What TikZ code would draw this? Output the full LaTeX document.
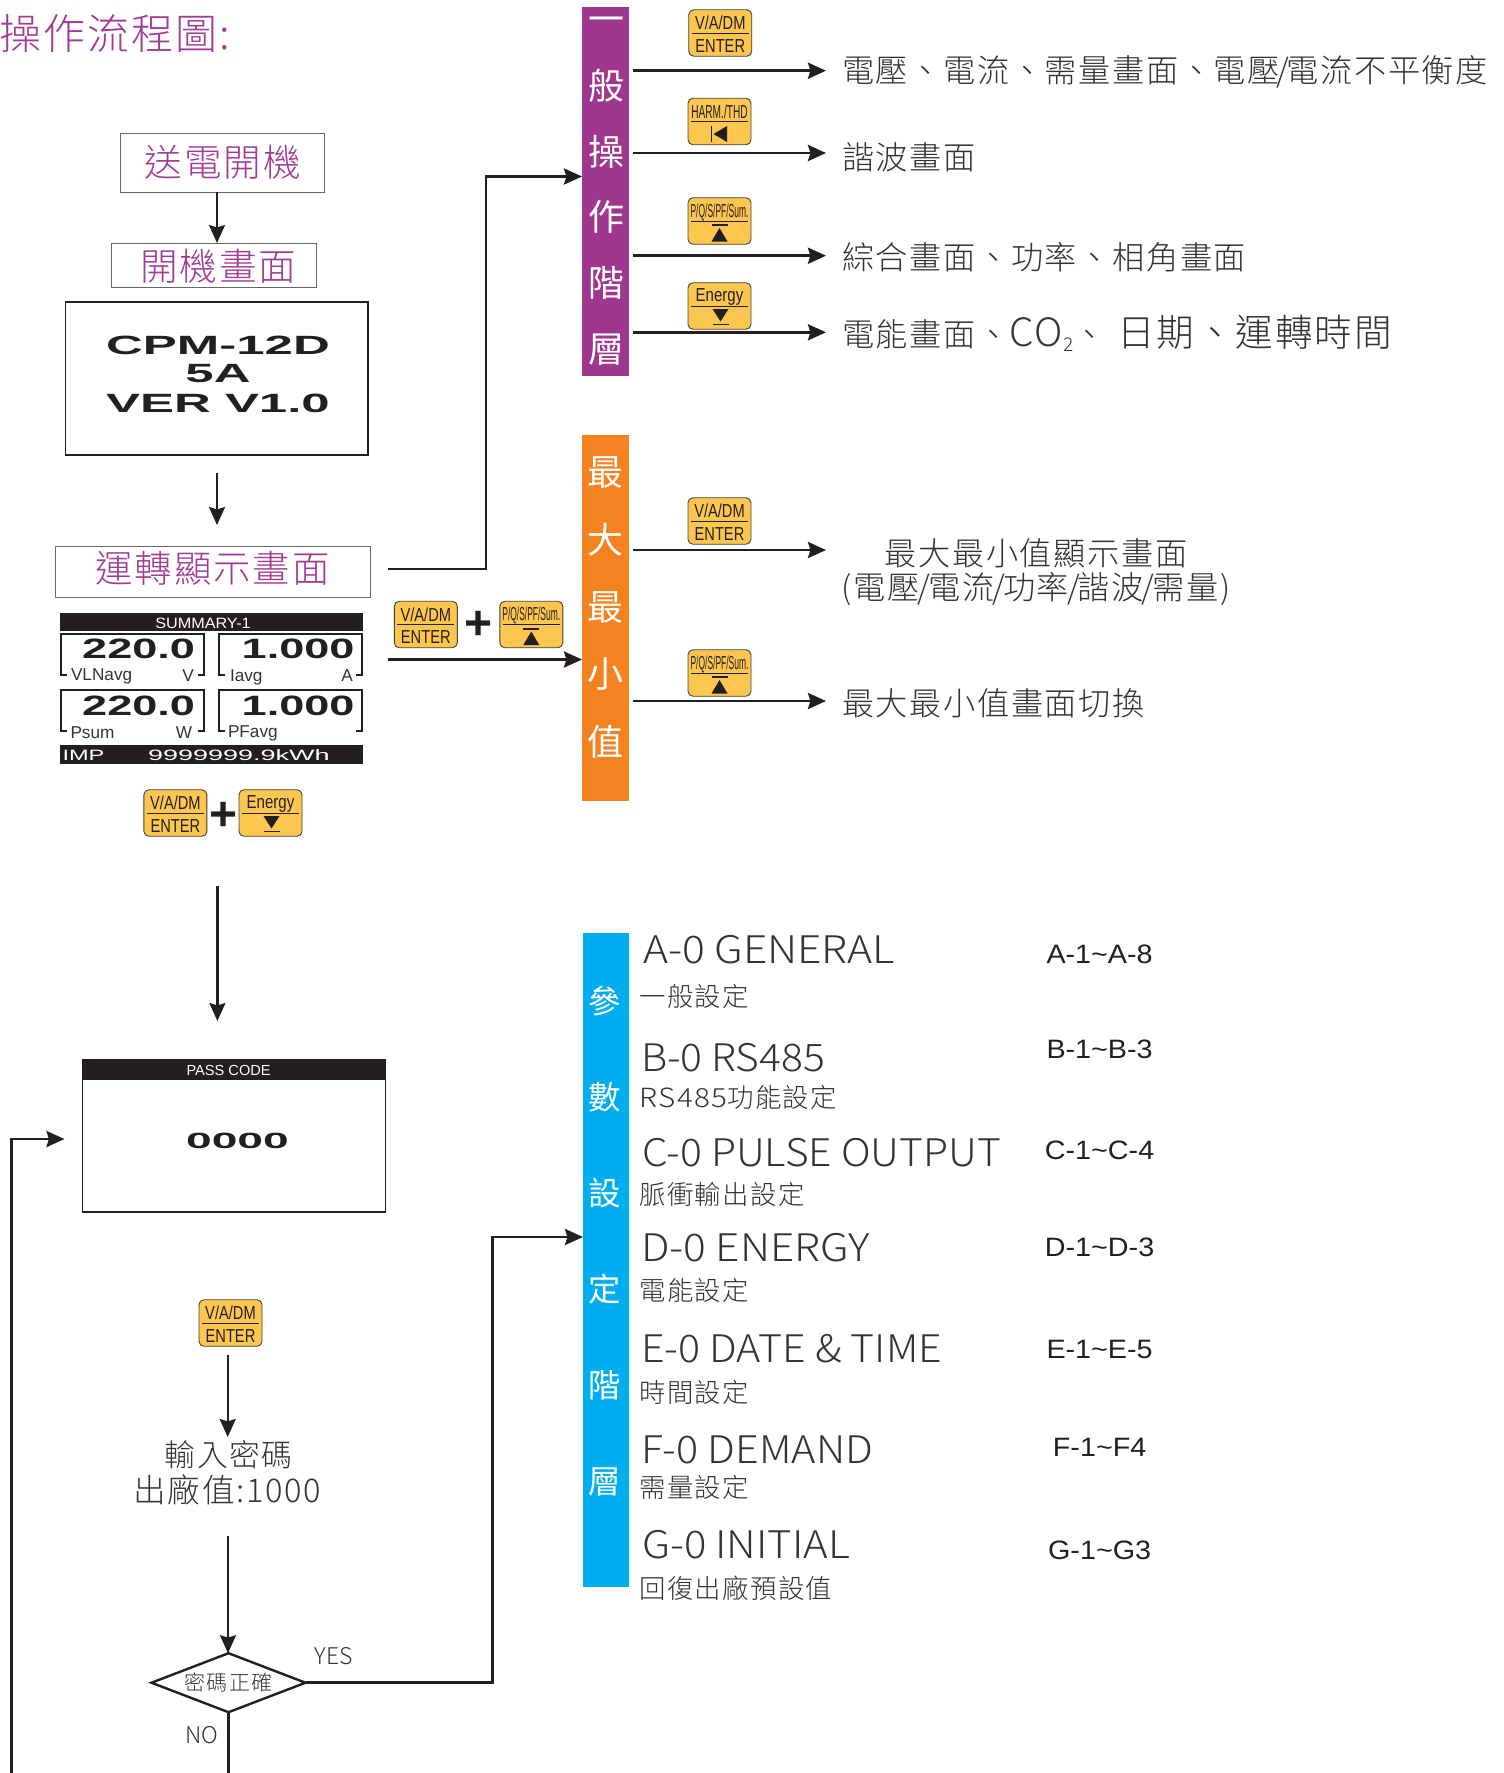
\documentclass[tikz,border=0pt]{standalone}
\usepackage{fontspec}
\usepackage{graphicx}
\usetikzlibrary{arrows.meta,shapes.geometric,calc}
\setmainfont{Liberation Sans}
\newfontfamily\cjk[LetterSpace=5]{Noto Sans CJK TC Light}
\newfontfamily\cjkr[LetterSpace=5]{Noto Sans CJK TC}
\newfontfamily\latl{Noto Sans CJK TC Light}
\newcommand\fs[1]{\fontsize{#1}{#1}\selectfont}
\newcommand\st{\rule[-.12em]{0pt}{1em}}
\newcommand\xs[2]{\scalebox{#1}[1]{#2}}
\newcommand\kslash{\kern-1.5pt/\kern-1.5pt}
\newcommand\mslash{\kern-1pt/\kern-1pt}
\definecolor{ink}{HTML}{231F20}
\definecolor{txt}{HTML}{333333}
\definecolor{pur}{HTML}{A23B97}
\definecolor{purbar}{HTML}{A0378F}
\definecolor{orabar}{HTML}{F58220}
\definecolor{blubar}{HTML}{00AEEF}
\definecolor{keyfill}{HTML}{FDC64F}
\tikzset{
  x=0.5pt,y=-0.5pt,
  every node/.style={inner sep=0pt,outer sep=0pt},
  purebox/.style={draw=black!60,line width=.5pt,fill=white},
  purtxt/.style={text=pur,font=\cjk\fs{18.8}},
  bodytxt/.style={text=txt,font=\cjk\fs{16.1},anchor=west},
  subtxt/.style={text=txt,font=\cjk\fs{13.2},anchor=west},
  headtxt/.style={text=txt,font=\latl\fs{19},anchor=west},
  codetxt/.style={text=ink,font=\fs{13.3}},
  barchar/.style={text=white,font=\cjkr\fs{18}},
  arrm/.style={draw=ink,line width=1.1pt,-{Stealth[length=9pt,width=8pt,inset=1.2pt]}},
  arrt/.style={draw=ink,line width=1.4pt,-{Stealth[length=9pt,width=8pt,inset=1.2pt]}},
  plainl/.style={draw=ink,line width=1.4pt},
  keybox/.style={draw=black!75,line width=.45pt,fill=keyfill,rounded corners=2.5pt,minimum width=31.5pt,minimum height=23.25pt},
  keytxt/.style={text=ink,font=\fs{9.4}},
  brk/.style={draw=ink,line width=1pt},
  lcdw/.style={text=white,font=\fs{7.5}},
  lcdv/.style={text=ink,font=\bfseries\fs{14}},
  lcdl/.style={text=black!80,font=\fs{8.6}},
  plus/.style={text=ink,font=\bfseries\fs{24}},
}
\newcommand\keybtn[6]{%
  \node[keybox] (#1) at (#2,#3) {};
  \draw[ink,line width=.5pt] ([xshift=1.5pt]#1.west) -- ([xshift=-1.5pt]#1.east);
  \node[keytxt] (#1t) at ($(#1.center)+(0,-10.5)$) {\xs{#5}{#4\st}};
  \begin{scope}[shift={(#1.center)}]#6{#1}\end{scope}
}
\newcommand\symenter[1]{\node[keytxt] (#1e) at (0,12) {\xs{.78}{ENTER\st}};}
\newcommand\symup[1]{\fill[ink] (-8,3.4) rectangle (8,5.2); \fill[ink] (0,7)--(8,20.5)--(-8,20.5)--cycle;}
\newcommand\symdown[1]{\fill[ink] (-7,3)--(9,3)--(1,15.5)--cycle; \fill[ink] (-7,17.6) rectangle (9,19.4);}
\newcommand\symleft[1]{\fill[ink] (-9,4.5) rectangle (-7.4,20.5); \fill[ink] (7.5,4.5)--(7.5,20.5)--(-6,12.5)--cycle;}
\newcommand\bracket[4]{\draw[brk] (#1+6,#4) -- (#1,#4) -- (#1,#2) -- (#3,#2) -- (#3,#4) -- (#3-6,#4);}
\begin{document}
\begin{tikzpicture}
\useasboundingbox (0,0) rectangle (1504,1773);
% title
\node[anchor=west,text=pur,font=\cjk\fs{21}] (title) at (-1,34) {操作流程圖:\st};
% left flow boxes
\node[purebox,minimum width=102pt,minimum height=29.5pt] (A) at (222.5,162.5) {};
\node[purtxt] (At) at (223,162.5) {送電開機\st};
\node[purebox,minimum width=102.25pt,minimum height=22pt] (B) at (213.75,265) {};
\node[purtxt] (Bt) at (218.3,266) {開機畫面\st};
\node[draw=ink,line width=.9pt,minimum width=151.25pt,minimum height=76.5pt] (C) at (216.75,378.5) {};
\node[text=ink,font=\bfseries\fs{13.2}] (c1) at (218,345) {\xs{1.93}{CPM-12D}};
\node[text=ink,font=\bfseries\fs{13.2}] (c2) at (218,374) {\xs{1.93}{5A}};
\node[text=ink,font=\bfseries\fs{13.2}] (c3) at (218,403) {\xs{1.93}{VER V1.0}};
\node[purebox,minimum width=157.75pt,minimum height=25.2pt] (D) at (212.75,571.8) {};
\node[purtxt,font=\cjk\fs{18.7}] (Dt) at (212.6,568) {運轉顯示畫面\st};
\coordinate (ax) at (217,0);
\draw[arrm] (ax |- A.south) -- (ax |- B.north);
\coordinate (cs) at (217,473);
\coordinate (ce) at (217,525);
\draw[arrm] (cs) -- (ce);
% bars
\node[fill=purbar,minimum width=23.5pt,minimum height=184.5pt] (pbar) at (605.5,191.5) {};
\node[fill=orabar,minimum width=23.5pt,minimum height=183pt] (obar) at (605.5,618) {};
\node[fill=blubar,minimum width=23pt,minimum height=326.75pt] (bbar) at (606,1259.75) {};
\foreach \c/\y [count=\i] in {一/19,般/86,操/152,作/217,階/283,層/349}
  \node[barchar] (pc\i) at (606,\y) {\c\st};
\foreach \c/\y [count=\i] in {最/472,大/540,最/607,小/674,值/742}
  \node[barchar] (oc\i) at (605,\y) {\c\st};
\foreach \c/\y [count=\i] in {參/1001,數/1097,設/1193,定/1289,階/1385,層/1481}
  \node[barchar,font=\cjkr\fs{16.2}] (bc\i) at (604.5,\y) {\c\st};
% D to purple bar
\coordinate (ds) at (388,569);
\draw[arrt] (ds) -- (486,569) -- (486,176.5) -- (pbar.west |- 0,176.5);
% keys
\keybtn{k1}{720.25}{33}{V/A/DM}{.78}{\symenter}
\keybtn{k2}{719.5}{121.5}{HARM./THD}{.54}{\symleft}
\keybtn{k3}{719.5}{221}{P/Q/S/PF/Sum.}{.45}{\symup}
\keybtn{k4}{719.5}{306}{Energy}{.8}{\symdown}
\keybtn{k5}{719.5}{521}{V/A/DM}{.78}{\symenter}
\keybtn{k6}{719.5}{673}{P/Q/S/PF/Sum.}{.45}{\symup}
\keybtn{k7}{425.8}{624.5}{V/A/DM}{.78}{\symenter}
\keybtn{k8}{531.3}{624.5}{P/Q/S/PF/Sum.}{.45}{\symup}
\keybtn{k9}{175.4}{813}{V/A/DM}{.78}{\symenter}
\keybtn{k10}{270.5}{813}{Energy}{.8}{\symdown}
\keybtn{k11}{230.5}{1323}{V/A/DM}{.78}{\symenter}
\node[plus] (p1) at (478.6,625.5) {+};
\node[plus] (p2) at (223.5,816) {+};
% right text
\node[bodytxt] (t1) at (842,71.5) {電壓、電流、需量畫面、電壓\kslash 電流不平衡度\st};
\node[bodytxt] (t2) at (842,157) {諧波畫面\st};
\node[bodytxt] (t3) at (842,257) {綜合畫面、功率、相角畫面\st};
\node[bodytxt] (t4) at (842,333.5) {電能畫面、{\fs{19.5}CO}{\fs{9.5}\raisebox{-2.5pt}{2}}、\kern6pt{\fs{18.8}日期、運轉時間}\st};
\node[text=txt,font=\cjk\fs{16.1}] (t5) at (1036,553) {最大最小值顯示畫面\st};
\node[text=txt,font=\cjk\fs{16.1}] (t6) at (1036,588) {(電壓\mslash 電流\mslash 功率\mslash 諧波\mslash 需量)\st};
\node[bodytxt] (t7) at (842,703.5) {最大最小值畫面切換\st};
% right arrows
\foreach \n/\y in {1/70.7,2/153,3/255.7,4/332.3,5/550,6/701}{
  \coordinate (rs\n) at (633,\y);
  \coordinate (re\n) at (826,\y);
  \draw[arrt] (rs\n) -- (re\n);
}
% combo to orange
\coordinate (os) at (388,659.5);
\draw[arrt] (os) -- (obar.west |- os);
% LCD summary
\node[fill=ink,minimum width=151.5pt,minimum height=9.2pt] (sumb) at (211.5,621.8) {};
\node[lcdw] (sumt) at (203,623) {\xs{1.08}{SUMMARY-1}\st};
\bracket{60.7}{634}{203.6}{675.3}
\bracket{219}{634}{361.6}{675.3}
\bracket{60.7}{690}{203.6}{731}
\bracket{219}{690}{361.6}{731}
\node[lcdv,anchor=east] (v1) at (195,649) {\xs{1.61}{220.0}};
\node[lcdv,anchor=east] (v2) at (354.5,649) {\xs{1.61}{1.000}};
\node[lcdv,anchor=east] (v3) at (195,706) {\xs{1.61}{220.0}};
\node[lcdv,anchor=east] (v4) at (354.5,706) {\xs{1.61}{1.000}};
\node[lcdl,anchor=west] (l1) at (71,676) {VLNavg};
\node[lcdl] (l2) at (188,676) {V};
\node[lcdl,anchor=west] (l3) at (230,677) {Iavg};
\node[lcdl] (l4) at (347,676) {A};
\node[lcdl,anchor=west] (l5) at (70.5,733) {Psum};
\node[lcdl] (l6) at (184,733) {W};
\node[lcdl,anchor=west] (l7) at (228,733) {PFavg};
\node[fill=ink,minimum width=151.5pt,minimum height=9.5pt] (impb) at (211.5,754.5) {};
\node[lcdw,anchor=west] (imp) at (62.5,755) {\xs{1.57}{IMP}};
\node[lcdw,anchor=west] (kwh) at (148,755) {\xs{1.8}{9999999.9kWh}};
% down to pass code
\coordinate (ps) at (217.4,886);
\coordinate (pe) at (217.4,1021);
\draw[arrm] (ps) -- (pe);
% pass code box
\node[draw=ink,line width=.7pt,minimum width=151.6pt,minimum height=76pt] (P) at (234.1,1136) {};
\node[fill=ink,minimum width=151.6pt,minimum height=10pt,anchor=north] (Pb) at (P.north) {};
\node[lcdw,font=\fs{7.3}] (Pt) at (228.6,1070) {PASS CODE\st};
\node[text=ink,font=\bfseries\fs{11}] (Pv) at (237.5,1141) {\xs{2.1}{0000}};
% password
\node[text=txt,font=\cjk\fs{15.4}] (in1) at (228.6,1455) {輸入密碼\st};
\node[text=txt,font=\cjk\fs{16.3}] (in2) at (227.3,1490) {出廠值:1000\st};
\coordinate (i1s) at (227.7,1355);
\draw[arrm] (i1s) -- (i1s |- 0,1437);
\coordinate (i2s) at (228,1535.7);
\node[draw=ink,line width=1.2pt,shape=diamond,aspect=2.66,minimum width=77pt,minimum height=29.5pt,text=txt,font=\cjk\fs{10.5}] (dia) at (228.5,1682.7) {密碼正確\st};
\draw[arrm] (i2s) -- (i2s |- dia.north);
\node[text=txt,font=\latl\fs{11.5}] (yes) at (334,1655.7) {YES\st};
\node[text=txt,font=\latl\fs{11.5}] (no) at (201.7,1735) {NO\st};
\draw[arrt] (dia.east) -- (492.5,1682.7) -- (492.5,1237) -- (bbar.west |- 0,1237);
\coordinate (ne) at (228.5,1773);
\draw[plainl] (dia.south) -- (ne);
% return loop
\coordinate (rb) at (11.5,1773);
\coordinate (rt) at (64.5,1139);
\draw[arrt] (rb) |- (rt);
% settings
\foreach \n/\x/\y/\w/\s in {a/643/949/126/A-0 GENERAL,b/641/1057/92/B-0 RS485,c/642/1152/179.5/C-0 PULSE OUTPUT,d/641/1247/114.5/D-0 ENERGY,e/641/1348/150.5/E-0 DATE \& TIME,f/641/1449/116/F-0 DEMAND,g/642/1544/104/G-0 INITIAL}
  \node[headtxt] (h\n) at (\x,\y) {\resizebox{\w pt}{\height}{\s\st}};
\foreach \n/\y/\s in {a/996/一般設定,b/1097.7/\xs{1.12}{RS485}功能設定,c/1194/脈衝輸出設定,d/1290.5/電能設定,e/1392.5/時間設定,f/1487.5/需量設定,g/1588.5/回復出廠預設值}
  \node[subtxt] (s\n) at (639.5,\y) {\s\st};
\foreach \n/\y/\s in {a/953.5/A-1\textasciitilde A-8,b/1048.6/B-1\textasciitilde B-3,c/1149.5/C-1\textasciitilde C-4,d/1246/D-1\textasciitilde D-3,e/1348.6/E-1\textasciitilde E-5,f/1446.8/F-1\textasciitilde F4,g/1549.5/G-1\textasciitilde G3}
  \node[codetxt] (r\n) at (1099.6,\y) {\xs{1.08}{\s}\st};
\end{tikzpicture}
\end{document}
